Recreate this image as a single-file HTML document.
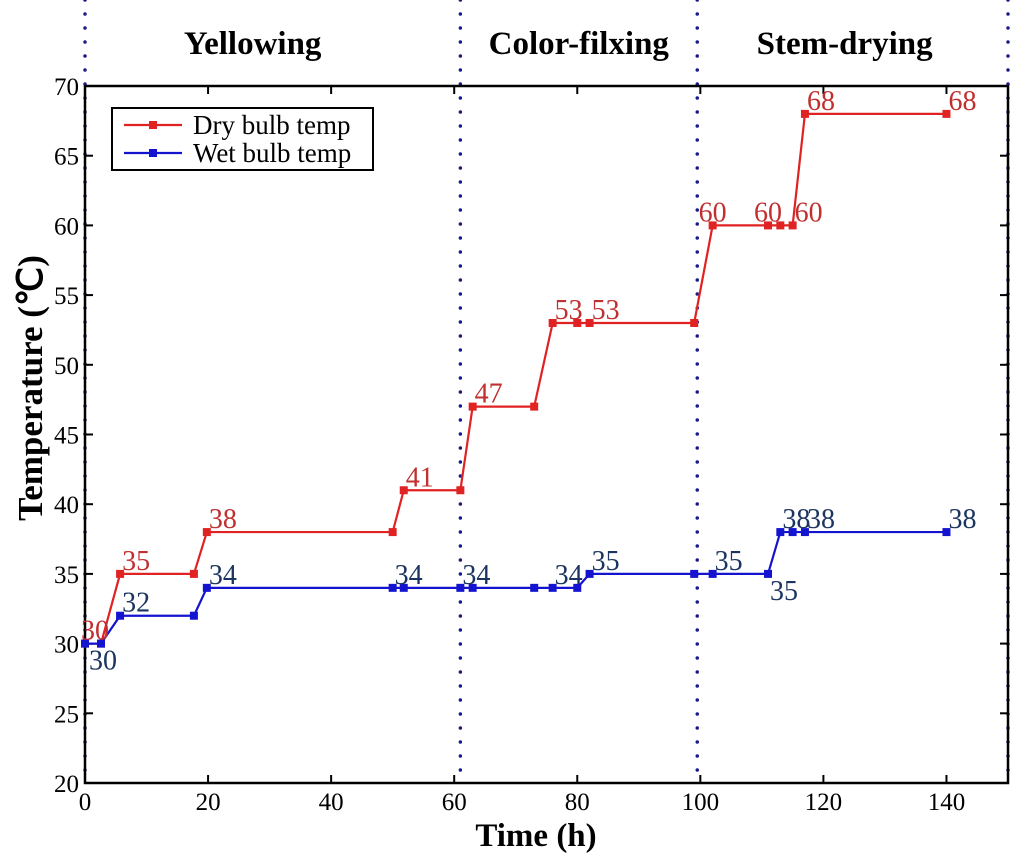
<!DOCTYPE html>
<html><head><meta charset="utf-8">
<style>
html,body{margin:0;padding:0;background:#fff;}
svg{display:block;font-family:"Liberation Serif",serif;}
</style></head>
<body>
<svg id="chart" width="1024" height="861"></svg>
<script>
const timeDry=[0,2.6,5.7,17.7,19.8,50,51.8,61,63,73,76,80,82,99,102,111,113,115,117,140];
const valDry=[30,30,35,35,38,38,41,41,47,47,53,53,53,53,60,60,60,60,68,68];
const timeWet=[0,2.6,5.7,17.7,19.8,50,51.8,61,63,73,76,80,82,99,102,111,113,115,117,140];
const valWet=[30,30,32,32,34,34,34,34,34,34,34,34,35,35,35,35,38,38,38,38];
const labelIdxDry=[0,2,4,6,8,10,12,14,15,17,18,19];
const labelIdxWet=[1,2,4,5,7,10,12,14,15,16,18,19];
const xTicks=[0,20,40,60,80,100,120,140];
const yTicks=[20,25,30,35,40,45,50,55,60,65,70];
const phaseBounds=[0,61,99.5,150];
const phaseNames=["Yellowing","Color-filxing","Stem-drying"];

const NS="http://www.w3.org/2000/svg";
const svg=document.getElementById('chart');
const L=85,R=1008,T=86,B=783;
const xs=v=>L+(v-0)/(150-0)*(R-L);
const ys=v=>B-(v-20)/(70-20)*(B-T);
function mk(tag,attrs,parent){const e=document.createElementNS(NS,tag);for(const k in attrs)e.setAttribute(k,attrs[k]);(parent||svg).appendChild(e);return e;}

phaseBounds.forEach((b,i)=>{
  const l=mk('line',{x1:xs(b),x2:xs(b),y1:0,y2:B,stroke:'#1a1a8c','stroke-width':3.5,'stroke-dasharray':'0 14','stroke-linecap':'round'});
  
  
});
const phaseShift=[-20,0,-8];
phaseNames.forEach((n,i)=>{
  const t=mk('text',{x:(xs(phaseBounds[i])+xs(phaseBounds[i+1]))/2+phaseShift[i],y:54,'text-anchor':'middle','font-size':33,'font-weight':'bold',fill:'#000'});
  t.textContent=n;
  
  
});

const fr=mk('rect',{x:L,y:T,width:R-L,height:B-T,fill:'none',stroke:'#000','stroke-width':2.5});


xTicks.forEach(v=>{
  mk('line',{x1:xs(v),x2:xs(v),y1:B,y2:B-8,stroke:'#000','stroke-width':2});
  mk('line',{x1:xs(v),x2:xs(v),y1:T,y2:T+8,stroke:'#000','stroke-width':2});
  const t=mk('text',{x:xs(v),y:B+27,'text-anchor':'middle','font-size':25,fill:'#000'});
  t.textContent=v;
  
  
});
yTicks.forEach(v=>{
  mk('line',{x1:L,x2:L+8,y1:ys(v),y2:ys(v),stroke:'#000','stroke-width':2});
  mk('line',{x1:R,x2:R-8,y1:ys(v),y2:ys(v),stroke:'#000','stroke-width':2});
  const t=mk('text',{x:L-6,y:ys(v)+9,'text-anchor':'end','font-size':25,fill:'#000'});
  t.textContent=v;
  
  
});
const xt=mk('text',{x:536,y:846,'text-anchor':'middle','font-size':33,'font-weight':'bold'});
xt.textContent='Time (h)';


const yt=mk('text',{x:0,y:0,'text-anchor':'middle','font-size':35,'font-weight':'bold',transform:'translate(42,388) rotate(-90)'});
yt.textContent='Temperature (℃)';



function series(tx,vy,color,name){
  const pts=tx.map((t,i)=>xs(t)+','+ys(vy[i])).join(' ');
  const pl=mk('polyline',{points:pts,fill:'none',stroke:color,'stroke-width':2.2});
  
  
  tx.forEach((t,i)=>{
    const m=mk('rect',{x:xs(t)-4,y:ys(vy[i])-4,width:8,height:8,fill:color});
    
    
  });
}
series(timeDry,valDry,'#e02222','dry-bulb');
series(timeWet,valWet,'#1414d0','wet-bulb');

labelIdxDry.forEach(i=>{
  const dx=(i==0?-4:(i==14||i==15)?-14:2);
  const t=mk('text',{x:xs(timeDry[i])+dx,y:ys(valDry[i])-4,'font-size':28,fill:'#c03030'});
  t.textContent=valDry[i];
  
  
});
labelIdxWet.forEach(i=>{
  const below=(i==1||i==15);
  const t=mk('text',{x:xs(timeWet[i])+(i==1?-12:2),y:ys(valWet[i])+(below?26:-4),'font-size':28,fill:'#1c3560'});
  t.textContent=valWet[i];
  
  
});

const lg=mk('g',{});


mk('rect',{x:112,y:108,width:261,height:62,fill:'#fff',stroke:'#000','stroke-width':2},lg);
[['Dry bulb temp','#e02222',125],['Wet bulb temp','#1414d0',153]].forEach(([n,c,y])=>{
  mk('line',{x1:124,x2:182,y1:y,y2:y,stroke:c,'stroke-width':2.2},lg);
  mk('rect',{x:149,y:y-4,width:8,height:8,fill:c},lg);
  const t=mk('text',{x:193,y:y+9,'font-size':27,fill:'#000'},lg);
  t.textContent=n;
  
  
});
</script>
</body></html>
